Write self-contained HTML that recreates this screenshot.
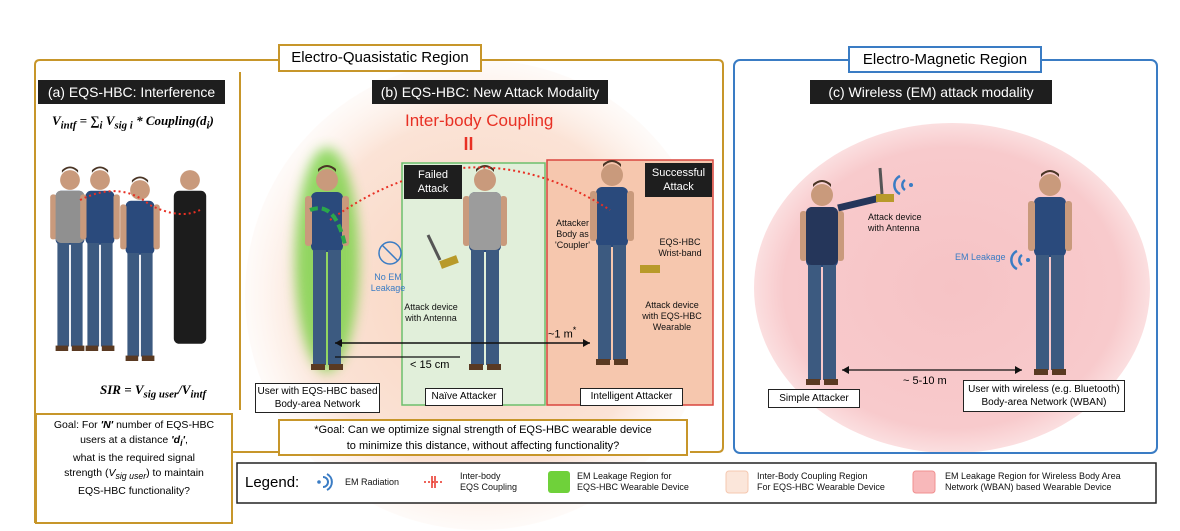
<!DOCTYPE html>
<html><head><meta charset="utf-8"><style>
body{margin:0;width:1180px;height:531px;background:#fff;position:relative;overflow:hidden;font-family:"Liberation Sans",sans-serif;}
.a{position:absolute;box-sizing:border-box;}
.t{background:#1e1e1e;color:#fff;font-size:14px;text-align:center;line-height:24px;}
.w{background:#fff;border:1.5px solid #222;font-size:10px;text-align:center;line-height:13px;}
.s{font-size:9px;color:#111;text-align:center;line-height:11px;}
</style></head><body>
<svg class="a" style="left:0;top:0" width="1180" height="531">
<defs>
<radialGradient id="pe" cx="50%" cy="50%" r="50%"><stop offset="0" stop-color="#f8d4bf"/><stop offset="0.75" stop-color="#fbe3d6"/><stop offset="1" stop-color="#fdf1ea" stop-opacity="0.3"/></radialGradient>
<radialGradient id="pk" cx="50%" cy="50%" r="50%"><stop offset="0" stop-color="#f6c3c5"/><stop offset="0.85" stop-color="#f8cacc"/><stop offset="1" stop-color="#fbdfe0"/></radialGradient>
<g id="p"><circle cx="0" cy="-100" r="11" fill="#c99a7c"/><path d="M-9,-108 q9,-10 18,0 v-3 q-9,-8 -18,0z" fill="#4a3525"/><rect x="-16" y="-88" width="32" height="60" rx="6" fill="#2a4a7c"/><rect x="-22" y="-84" width="7" height="50" rx="3" fill="#c99a7c"/><rect x="15" y="-84" width="7" height="50" rx="3" fill="#c99a7c"/><rect x="-14" y="-30" width="13" height="115" fill="#3c5a80"/><rect x="1" y="-30" width="13" height="115" fill="#3c5a80"/><rect x="-16" y="84" width="14" height="6" fill="#5a3a22"/><rect x="2" y="84" width="14" height="6" fill="#5a3a22"/></g>
</defs>
<circle cx="480" cy="295" r="235" fill="url(#pe)"/>
<ellipse cx="952" cy="288" rx="198" ry="165" fill="url(#pk)"/>
<rect x="402" y="163" width="143" height="242" fill="#e1efda" stroke="#6cbf6c" stroke-width="1.5"/>
<rect x="547" y="160" width="166" height="245" fill="#f6c7ae" stroke="#d9463e" stroke-width="1.5"/>
<path d="M278,60 H40 q-5,0 -5,5 V523" fill="none" stroke="#c7962a" stroke-width="2"/>
<path d="M482,60 H718 q5,0 5,5 V447 q0,5 -5,5 H690" fill="none" stroke="#c7962a" stroke-width="2"/>
<path d="M35,452 H278" fill="none" stroke="#c7962a" stroke-width="2"/>
<line x1="240" y1="72" x2="240" y2="410" stroke="#c7962a" stroke-width="2"/>
<rect x="734" y="60" width="423" height="393" rx="6" fill="none" stroke="#3a7cc4" stroke-width="2"/>
<g transform="translate(0,-20)">
<g transform="translate(70,290) scale(0.9)"><use href="#p"/><rect x="-16" y="-88" width="32" height="58" rx="6" fill="#909090"/></g>
<g transform="translate(100,290) scale(0.9)"><use href="#p"/></g>
<g transform="translate(140,300) scale(0.9)"><use href="#p"/></g>
<g transform="translate(190,290) scale(0.9)"><circle cx="0" cy="-100" r="11" fill="#c99a7c"/><rect x="-18" y="-88" width="36" height="170" rx="6" fill="#1c1c1c"/></g>
</g>
<ellipse cx="327" cy="260" rx="32" ry="112" fill="#6fd13a" opacity="0.75" style="filter:blur(6px)"/>
<g transform="translate(327,280)"><use href="#p"/></g>
<g transform="translate(485,280)"><use href="#p"/><rect x="-16" y="-88" width="32" height="58" rx="6" fill="#9c9c9c"/></g>
<g transform="translate(612,275)"><use href="#p"/></g>
<g transform="translate(822,295)"><use href="#p"/><rect x="-16" y="-88" width="32" height="58" rx="6" fill="#25365a"/></g>
<line x1="838" y1="208" x2="880" y2="198" stroke="#25365a" stroke-width="7"/>
<rect x="876" y="194" width="18" height="8" fill="#b89a2a"/><line x1="882" y1="194" x2="880" y2="168" stroke="#555" stroke-width="3"/>
<g transform="translate(1050,285)"><use href="#p"/></g>
<rect x="640" y="265" width="20" height="8" fill="#b89a2a"/>
<rect x="440" y="258" width="18" height="8" fill="#b89a2a" transform="rotate(-20 449 262)"/><line x1="440" y1="260" x2="428" y2="235" stroke="#555" stroke-width="3"/>
<path d="M330,220 Q470,120 610,210" fill="none" stroke="#e83024" stroke-width="2" stroke-dasharray="2,3"/>
<line x1="466" y1="137" x2="466" y2="150" stroke="#e83024" stroke-width="2.5"/><line x1="471" y1="137" x2="471" y2="150" stroke="#e83024" stroke-width="2.5"/>
<path d="M80,200 Q120,180 150,205 Q180,220 200,210" fill="none" stroke="#e83024" stroke-width="2" stroke-dasharray="2,3"/>
<path d="M310,210 Q335,200 345,245" fill="none" stroke="#2aa84a" stroke-width="4" stroke-dasharray="8,4"/>
<line x1="335" y1="343" x2="590" y2="343" stroke="#111" stroke-width="1.5"/>
<path d="M590,343 l-7,-4 v8z M335,343 l7,-4 v8z" fill="#111"/>
<line x1="335" y1="357" x2="460" y2="357" stroke="#111" stroke-width="1.2"/>
<line x1="842" y1="370" x2="1022" y2="370" stroke="#111" stroke-width="1.2"/>
<path d="M842,370 l7,-4 v8z M1022,370 l-7,-4 v8z" fill="#111"/>
<g fill="none" stroke="#3a7cc4" stroke-width="2.5"><path d="M905,180 a6,6 0 0,0 0,10"/><path d="M900,176 a10,10 0 0,0 0,18"/></g><circle cx="911" cy="185" r="2" fill="#3a7cc4"/>
<g fill="none" stroke="#3a7cc4" stroke-width="2.5"><path d="M1022,255 a6,6 0 0,0 0,10"/><path d="M1017,251 a10,10 0 0,0 0,18"/></g><circle cx="1028" cy="260" r="2" fill="#3a7cc4"/>
<circle cx="390" cy="253" r="11" fill="none" stroke="#3a7cc4" stroke-width="1.5"/><line x1="382" y1="245" x2="398" y2="261" stroke="#3a7cc4" stroke-width="1.5"/>
<rect x="237" y="463" width="919" height="40" fill="#fff" stroke="#222" stroke-width="1.5"/>
<g fill="none" stroke="#3a7cc4" stroke-width="2"><path d="M323,477 a5,5 0 0,1 0,10"/><path d="M327,474 a9,9 0 0,1 0,16"/></g><circle cx="319" cy="482" r="1.8" fill="#3a7cc4"/>
<line x1="424" y1="482" x2="442" y2="482" stroke="#e83024" stroke-width="1.5" stroke-dasharray="2,2"/><line x1="432" y1="476" x2="432" y2="488" stroke="#e83024" stroke-width="1.5"/><line x1="435" y1="476" x2="435" y2="488" stroke="#e83024" stroke-width="1.5"/>
<rect x="548" y="471" width="22" height="22" rx="3" fill="#6fd13a"/>
<rect x="726" y="471" width="22" height="22" rx="3" fill="#fbe6da" stroke="#f5c8b0"/>
<rect x="913" y="471" width="22" height="22" rx="3" fill="#f8b8ba" stroke="#f09090"/>
</svg>
<div class="a" style="left:278px;top:44px;width:204px;height:28px;border:2px solid #c7962a;background:#fff;font-size:15px;text-align:center;line-height:24px">Electro-Quasistatic Region</div>
<div class="a" style="left:848px;top:46px;width:194px;height:27px;border:2px solid #3a7cc4;background:#fff;font-size:15px;text-align:center;line-height:23px">Electro-Magnetic Region</div>
<div class="a t" style="left:38px;top:80px;width:187px">(a) EQS-HBC: Interference</div>
<div class="a t" style="left:372px;top:80px;width:236px">(b) EQS-HBC: New Attack Modality</div>
<div class="a t" style="left:810px;top:80px;width:242px">(c) Wireless (EM) attack modality</div>
<div class="a" style="left:52px;top:113px;font-family:'Liberation Serif',serif;font-style:italic;font-weight:bold;font-size:13px">V<sub>intf</sub> = &sum;<sub>i</sub> V<sub>sig i</sub> * Coupling(d<sub>i</sub>)</div>
<div class="a" style="left:100px;top:382px;font-family:'Liberation Serif',serif;font-style:italic;font-weight:bold;font-size:13px;background:#fff">SIR = V<sub>sig user</sub>/V<sub>intf</sub></div>
<div class="a" style="left:405px;top:111px;color:#e83024;font-size:17px">Inter-body Coupling</div>
<div class="a t" style="left:404px;top:165px;width:58px;line-height:14px;font-size:11px;padding:3px 0">Failed<br>Attack</div>
<div class="a t" style="left:645px;top:163px;width:67px;line-height:14px;font-size:11px;padding:3px 0">Successful<br>Attack</div>
<div class="a s" style="left:550px;top:218px;width:45px">Attacker<br>Body as<br>'Coupler'</div>
<div class="a s" style="left:652px;top:237px;width:56px">EQS-HBC<br>Wrist-band</div>
<div class="a s" style="left:632px;top:300px;width:80px">Attack device<br>with EQS-HBC<br>Wearable</div>
<div class="a s" style="left:400px;top:302px;width:62px">Attack device<br>with Antenna</div>
<div class="a s" style="left:368px;top:272px;width:40px;color:#3a7cc4">No EM<br>Leakage</div>
<div class="a s" style="left:868px;top:212px;width:64px;text-align:left">Attack device<br>with Antenna</div>
<div class="a s" style="left:955px;top:252px;color:#3a7cc4">EM Leakage</div>
<div class="a" style="left:548px;top:325px;font-size:11px">~1 m<sup>*</sup></div>
<div class="a" style="left:410px;top:359px;font-size:11px">&lt; 15 cm</div>
<div class="a" style="left:903px;top:375px;font-size:11px">~ 5-10 m</div>
<div class="a w" style="left:255px;top:383px;width:125px;height:30px;padding-top:1px">User with EQS-HBC based<br>Body-area Network</div>
<div class="a w" style="left:425px;top:388px;width:78px;height:18px;line-height:16px">Naïve Attacker</div>
<div class="a w" style="left:580px;top:388px;width:103px;height:18px;line-height:16px">Intelligent Attacker</div>
<div class="a w" style="left:768px;top:389px;width:92px;height:19px;line-height:17px">Simple Attacker</div>
<div class="a w" style="left:963px;top:380px;width:162px;height:32px;padding-top:2px">User with wireless (e.g. Bluetooth)<br>Body-area Network (WBAN)</div>
<div class="a" style="left:35px;top:413px;width:198px;height:111px;border:2px solid #c7962a;background:#fff;font-size:10.5px;text-align:center;line-height:15px;padding-top:3px">Goal: For <b><i>'N'</i></b> number of EQS-HBC<br>users at a distance <b><i>'d<sub>i</sub>'</i></b>,<br>what is the required signal<br>strength (<i>V<sub>sig user</sub></i>) to maintain<br>EQS-HBC functionality?</div>
<div class="a" style="left:278px;top:419px;width:410px;height:37px;border:2px solid #c7962a;background:#fff;font-size:11px;text-align:center;line-height:16px;padding-top:1px">*Goal: Can we optimize signal strength of EQS-HBC wearable device<br>to minimize this distance, without affecting functionality?</div>
<div class="a" style="left:245px;top:474px;font-size:15px">Legend:</div>
<div class="a s" style="left:345px;top:477px">EM Radiation</div>
<div class="a s" style="left:460px;top:471px;text-align:left">Inter-body<br>EQS Coupling</div>
<div class="a s" style="left:577px;top:471px;text-align:left">EM Leakage Region for<br>EQS-HBC Wearable Device</div>
<div class="a s" style="left:757px;top:471px;text-align:left">Inter-Body Coupling Region<br>For EQS-HBC Wearable Device</div>
<div class="a s" style="left:945px;top:471px;text-align:left">EM Leakage Region for Wireless Body Area<br>Network (WBAN) based Wearable Device</div>
</body></html>
